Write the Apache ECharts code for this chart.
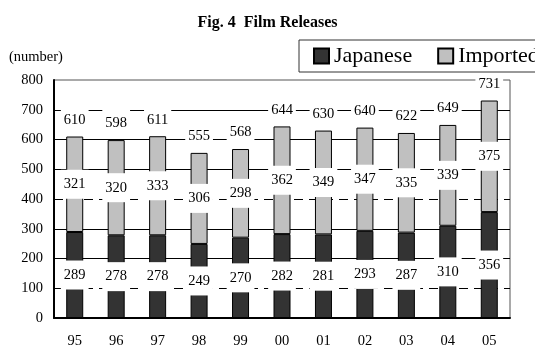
<!DOCTYPE html>
<html>
<head>
<meta charset="utf-8">
<script src="https://cdn.jsdelivr.net/npm/echarts@6/dist/echarts.min.js"></script>
<style>
  html, body { margin: 0; padding: 0; background: #fff; }
  #main { width: 535px; height: 349px; }
</style>
</head>
<body>
<div id="main"></div>
<script>
// 数据
const years = ['95', '96', '97', '98', '99', '00', '01', '02', '03', '04', '05'];
const japanese = [289, 278, 278, 249, 270, 282, 281, 293, 287, 310, 356];
const imported = [321, 320, 333, 306, 298, 362, 349, 347, 335, 339, 375];
const totals = [610, 598, 611, 555, 568, 644, 630, 640, 622, 649, 731];
const yTicks = [0, 100, 200, 300, 400, 500, 600, 700, 800];
const dashedLines = [100, 400];

const font = '"Times New Roman", "Liberation Serif", serif';

const valueLabel = {
    show: true,
    position: 'inside',
    color: '#000',
    fontFamily: font,
    fontSize: 14.5,
    backgroundColor: '#fff',
    padding: [7, 3]
};

let myChart = echarts.init(document.getElementById('main'));

myChart.setOption({
    animation: false,
    title: [{
        text: 'Fig. 4  Film Releases',
        left: 'center',
        top: 15,
        padding: 0,
        textStyle: { fontFamily: font, fontSize: 16, fontWeight: 'bold', color: '#000' }
    }, {
        text: '(number)',
        left: 9,
        top: 50,
        padding: 0,
        textStyle: { fontFamily: font, fontSize: 14.5, fontWeight: 'normal', color: '#000' }
    }],
    legend: {
        data: ['Japanese', 'Imported'],
        left: 299,
        top: 40,
        width: 300,
        padding: [5, 14],
        borderColor: '#333',
        borderWidth: 1,
        itemWidth: 15,
        itemHeight: 15,
        itemGap: 25,
        icon: 'rect',
        textStyle: { fontFamily: font, fontSize: 22, color: '#000' }
    },
    grid: {
        left: 54,
        right: 25,
        top: 80,
        bottom: 29,
        show: true,
        borderColor: '#555',
        borderWidth: 1
    },
    xAxis: {
        type: 'category',
        data: years,
        axisLine: { lineStyle: { color: '#000', width: 2 } },
        axisTick: { inside: true, length: 5, lineStyle: { color: '#000' } },
        axisLabel: { color: '#000', fontFamily: font, fontSize: 14.5, margin: 16 }
    },
    yAxis: {
        type: 'value',
        min: 0,
        max: 800,
        interval: 100,
        axisLine: { show: true, lineStyle: { color: '#000', width: 2 } },
        axisTick: { show: false },
        splitLine: { show: false },
        axisLabel: { color: '#000', fontFamily: font, fontSize: 14.5, margin: 11 }
    },
    series: [{
        name: 'Japanese',
        type: 'bar',
        stack: 'all',
        barWidth: 17,
        data: japanese,
        itemStyle: { color: '#333333', borderColor: '#000', borderWidth: 1 },
        label: valueLabel,
        // 网格线，100 和 400 为虚线
        markLine: {
            z: 1,
            silent: true,
            symbol: 'none',
            label: { show: false },
            lineStyle: { color: '#000', width: 1, type: 'solid' },
            data: yTicks.filter(v => v > 0 && v < 800).map(v => ({
                yAxis: v,
                lineStyle: { type: dashedLines.includes(v) ? [9, 6] : 'solid' }
            }))
        }
    }, {
        name: 'Imported',
        type: 'bar',
        stack: 'all',
        barWidth: 17,
        data: imported,
        itemStyle: { color: '#c0c0c0', borderColor: '#000', borderWidth: 1 },
        label: valueLabel
    }, {
        // 合计标签
        name: 'Total',
        type: 'bar',
        stack: 'all',
        barWidth: 17,
        data: totals.map(() => 0),
        itemStyle: { color: 'transparent' },
        label: Object.assign({}, valueLabel, {
            position: 'top',
            distance: 2,
            formatter: p => totals[p.dataIndex]
        })
    }]
});
</script>
</body>
</html>
